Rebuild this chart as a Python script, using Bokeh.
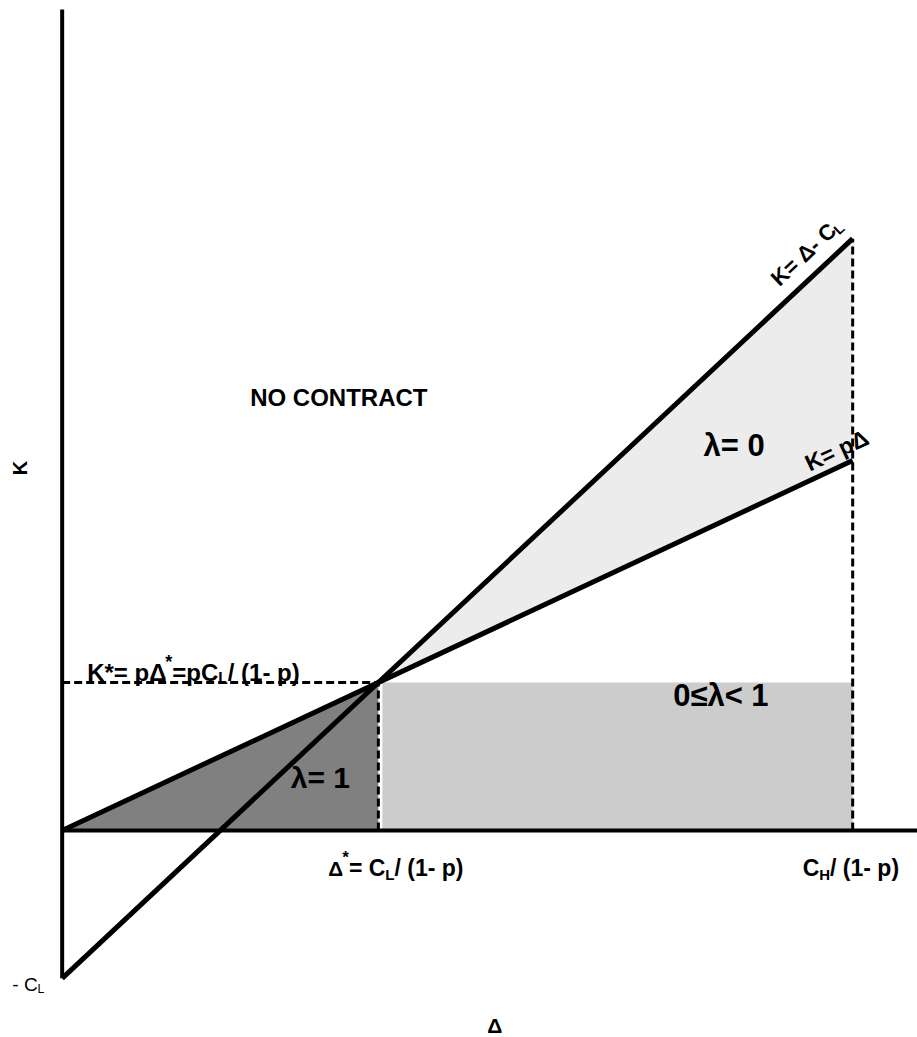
import math
from bokeh.plotting import figure
from bokeh.models import Range1d, ColumnDataSource
from bokeh.core.properties import value, field
from bokeh.embed import file_html
from bokeh.resources import INLINE

# ---------------- model values (normalised: C_L = 1, p = 0.5) ----------------
p_val = 0.5
c_low = 1.0
c_high = 2.5
delta_star = c_low / (1 - p_val)        # Δ* = C_L/(1-p)
k_star = p_val * delta_star             # K* = pΔ*
delta_max = c_high / (1 - p_val)        # C_H/(1-p)
x_axis_end = 5.41
y_axis_top = 5.55

region_labels = ["λ= 1", "0≤λ< 1", "λ= 0"]
region_colors = ["#808080", "#cccccc", "#ececec"]
title_label = "NO CONTRACT"
x_label = "Δ"
y_label = "K"

# ---------------- canvas ----------------
W, H = 917, 1037
X_LO, X_HI = -0.39, 5.41
Y_LO, Y_HI = -1.40, 5.61
SX = W / (X_HI - X_LO)
SY = H / (Y_HI - Y_LO)

p = figure(width=W, height=H, x_range=Range1d(X_LO, X_HI), y_range=Range1d(Y_LO, Y_HI),
           output_backend="svg", toolbar_location=None, x_axis_type=None, y_axis_type=None,
           min_border=0, outline_line_color=None)
p.grid.visible = False
p.background_fill_color = "white"
p.border_fill_color = "white"

# ---------------- shaded regions ----------------
p.patch([0, delta_star, delta_star], [0, k_star, 0], fill_color=region_colors[0], line_color=None)
gap = 4 / SX
p.patch([delta_star + gap, delta_max, delta_max, delta_star + gap], [0, 0, k_star, k_star],
        fill_color=region_colors[1], line_color=None)
p.patch([delta_star, delta_max, delta_max], [k_star, delta_max - c_low, p_val * delta_max],
        fill_color=region_colors[2], line_color=None)

# ---------------- dashed guides ----------------
dash_kw = dict(line_color="black", line_width=3, line_dash="8 4")
p.line([0, delta_star], [k_star, k_star], **dash_kw)
p.line([delta_star, delta_star], [0, k_star], **dash_kw)
p.line([delta_max, delta_max], [0, delta_max - c_low], **dash_kw)

# ---------------- main lines ----------------
p.line([0, delta_max], [-c_low, delta_max - c_low], line_color="black", line_width=5)
p.line([0, delta_max], [0, p_val * delta_max], line_color="black", line_width=5)

# axes
p.line([0, 0], [-c_low, y_axis_top], line_color="black", line_width=4)
p.line([0, x_axis_end], [0, 0], line_color="black", line_width=4)

# ---------------- text helpers ----------------
CW = {"A": .722, "C": .722, "H": .722, "K": .722, "L": .611, "N": .722, "O": .778, "T": .611,
      "R": .722, "p": .611, " ": .278, "*": .389, "=": .584, "/": .278, "(": .333, ")": .333,
      "-": .333, "<": .584, "≤": .549, "Δ": .668, "λ": .556}


def text_w(t, size):
    return sum(CW.get(ch, .556) for ch in t) * size


def rich(x0, y0, segs, size, angle_deg=0.0, align="left", bold=True):
    th = math.radians(angle_deg)
    c, s = math.cos(th), math.sin(th)
    widths = [text_w(t, size * sc) for t, sc, sh in segs]
    total = sum(widths)
    cur = {"left": 0.0, "center": -total / 2, "right": -total}[align]
    xs, ys, txt, fs = [], [], [], []
    for (t, sc, sh), w in zip(segs, widths):
        shift = sh * size
        px = cur * c - shift * s
        py = cur * s + shift * c
        xs.append(x0 + px / SX)
        ys.append(y0 + py / SY)
        txt.append(t)
        fs.append(f"{size * sc:.1f}px")
        cur += w
    src = ColumnDataSource(dict(x=xs, y=ys, text=txt, fs=fs))
    p.text(x="x", y="y", text="text", source=src, angle=th, text_align="left",
           text_baseline="alphabetic", text_font=value("Liberation Sans"),
           text_font_style="bold" if bold else "normal", text_font_size=field("fs"),
           text_color="black")


def px_x(dx):
    return dx / SX


def px_y(dy):
    return dy / SY


# ---------------- labels ----------------
rich(px_x(25), k_star + px_y(10), [("K*= pΔ", 1, 0), ("*", .75, .45), ("=pC", 1, 0),
                                    ("L", .65, -.25), (" / (1- p)", 1, 0)], 24)
rich(delta_star - px_x(50), -px_y(38), [("Δ", .9, 0), ("*", .75, .5), ("= C", 1, 0),
                                         ("L", .65, -.25), ("  / (1- p)", 1, 0)], 23)
rich(delta_max - px_x(50), -px_y(38), [("C", 1, 0), ("H", .65, -.25), ("  / (1- p)", 1, 0)], 23)
rich(-px_x(17), -c_low - px_y(6), [("- C", 1, 0), ("L", .65, -.25)], 19, align="right", bold=False)
rich(px_x(250 - 62), px_y(830 - 397), [(title_label, 1, 0)], 24)
rich(delta_star - px_x(58), 0.36, [(region_labels[0], 1, 0)], 30, align="center")
rich(px_x(673 - 62), k_star - px_y(13), [(region_labels[1], 1, 0)], 31)
rich(4.25, 2.6, [(region_labels[2], 1, 0)], 31, align="center")

ang_up = math.degrees(math.atan2(1 * SY, 1 * SX))
ang_lo = math.degrees(math.atan2(p_val * SY, 1 * SX))
# K = Δ - C_L along the upper line
d0 = 4.6
th = math.radians(ang_up)
off = 22
rich(d0 - off * math.sin(th) / SX, d0 - c_low + off * math.cos(th) / SY,
     [("K= Δ- C", 1, 0), ("L", .65, -.25)], 22, angle_deg=ang_up)
# K = pΔ along the lower line
d1 = 4.75
th2 = math.radians(ang_lo)
off2 = 16
rich(d1 - off2 * math.sin(th2) / SX, p_val * d1 + off2 * math.cos(th2) / SY,
     [("K= pΔ", 1, 0)], 23, angle_deg=ang_lo)

# axis titles
rich(-px_x(42), 2.45, [(y_label, 1, 0)], 20, angle_deg=90, align="center")
rich(px_x(494 - 62), Y_LO + px_y(12), [(x_label, 1, 0)], 21, align="center")

open("out.html", "w").write(file_html(p, INLINE))
